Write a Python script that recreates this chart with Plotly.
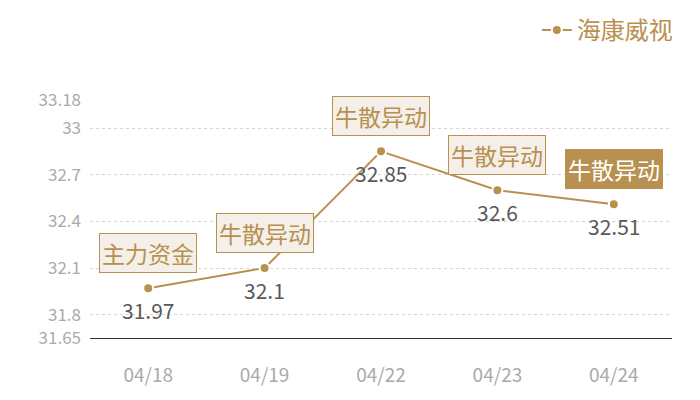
import plotly.graph_objects as go

# Data.
dates = ['04/18', '04/19', '04/22', '04/23', '04/24']
prices = [31.97, 32.1, 32.85, 32.6, 32.51]
tags = ['主力资金', '牛散异动', '牛散异动', '牛散异动', '牛散异动']
highlight = [False, False, False, False, True]
y_ticks = [31.65, 31.8, 32.1, 32.4, 32.7, 33, 33.18]

GOLD = '#b8904f'
FONT = 'Noto Sans CJK SC'

fig = go.Figure()
fig.add_trace(go.Scatter(x=dates, y=prices,
                         name='海康威视',
                         mode='lines+markers',
                         line=dict(color=GOLD, width=2),
                         marker=dict(color=GOLD, size=10,
                                     line=dict(color='white', width=2)))
              )

# Value labels under the points and tag boxes above them.
for d, p, t, h in zip(dates, prices, tags, highlight):
    fig.add_annotation(x=d, y=p, text=str(p), showarrow=False,
                       yshift=-22,
                       font=dict(family=FONT, size=21, color='#595959'))
    fig.add_annotation(x=d, y=p, text=t, showarrow=False,
                       yshift=35,
                       bgcolor=GOLD if h else '#f4efe9',
                       bordercolor=GOLD, borderwidth=1, borderpad=2,
                       font=dict(family=FONT, size=23,
                                 color='white' if h else GOLD))

# The page body adds an 8px margin, so the figure is drawn a bit smaller.
fig.update_layout(width=692, height=392,
                  paper_bgcolor='white', plot_bgcolor='white',
                  margin=dict(l=82, r=28, t=92, b=62),
                  font=dict(family=FONT),
                  showlegend=True,
                  legend=dict(x=1.01, y=1.0, xref='paper', yref='container',
                              xanchor='right', yanchor='top',
                              font=dict(family=FONT, size=24, color=GOLD),
                              bgcolor='rgba(0,0,0,0)'))
fig.update_xaxes(type='category', range=[-0.5, 4.5],
                 showgrid=False, showline=True, linecolor='#333333',
                 linewidth=1, ticks='',
                 tickfont=dict(family=FONT, size=19, color='#aaaaaa'),
                 ticklabelstandoff=20)
fig.update_yaxes(range=[31.65, 33.18], tickvals=y_ticks,
                 ticktext=[str(v) for v in y_ticks],
                 showgrid=True, gridcolor='#d4d4d4', griddash='dot',
                 gridwidth=1, zeroline=False,
                 showline=False, ticks='', ticklabelstandoff=8,
                 tickfont=dict(family=FONT, size=17, color='#aaaaaa'))

fig.write_html('out.html')
